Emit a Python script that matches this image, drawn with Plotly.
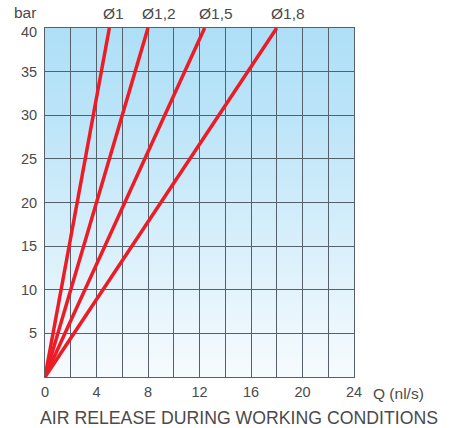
import base64
import plotly.graph_objects as go

# Data
nozzles = ["Ø1", "Ø1,2", "Ø1,5", "Ø1,8"]
q_at_40bar = [5.0, 8.0, 12.4, 18.0]   # Q (nl/s) reached at 40 bar
pressure_range = [0, 40]
x_ticks = [0, 4, 8, 12, 16, 20, 24]
y_ticks = [5, 10, 15, 20, 25, 30, 35, 40]

FONT = "Liberation Sans, Arial, sans-serif"
TXT = "#4a4a4a"
GRID = "#56606a"

fig = go.Figure()

for name, q in zip(nozzles, q_at_40bar):
    fig.add_trace(go.Scatter(
        x=[0, q], y=pressure_range, mode="lines",
        line=dict(color="#ec1c26", width=3.5), name=name, showlegend=False,
        cliponaxis=False))
    fig.add_annotation(x=q, y=40, text=name, showarrow=False,
                       xanchor="left", yanchor="bottom", xshift=-8, yshift=4,
                       font=dict(family=FONT, size=15.5, color=TXT))

# y tick labels (top one nudged down as in the original)
for v in y_ticks:
    fig.add_annotation(x=0, y=v, xref="x", yref="y", text=str(v), showarrow=False,
                       xanchor="right", yanchor="middle", xshift=-6,
                       yshift=-4 if v == max(y_ticks) else 0,
                       font=dict(family=FONT, size=14.5, color=TXT))

# background gradient as an inline SVG image
svg = ("<svg xmlns='http://www.w3.org/2000/svg' width='100' height='100' "
       "viewBox='0 0 100 100' preserveAspectRatio='none'>"
       "<defs><linearGradient id='g' x1='0' y1='0' x2='0' y2='1'>"
       "<stop offset='0' stop-color='#aedff7'/>"
       "<stop offset='0.25' stop-color='#bbe4f8'/>"
       "<stop offset='1' stop-color='#f7fbfe'/>"
       "</linearGradient></defs>"
       "<rect width='100' height='100' fill='url(#g)'/></svg>")
uri = "data:image/svg+xml;base64," + base64.b64encode(svg.encode()).decode()
fig.add_layout_image(source=uri, xref="x", yref="y", x=0, y=40, sizex=24, sizey=40,
                     sizing="stretch", layer="below", xanchor="left", yanchor="top")

fig.update_xaxes(range=[0, 24], tickvals=x_ticks,
                 showgrid=True, gridcolor=GRID, gridwidth=1.4,
                 showline=True, linecolor=GRID, linewidth=1.4, mirror=True,
                 zeroline=False, ticks="", ticklabelstandoff=1,
                 tickfont=dict(family=FONT, size=14.5, color=TXT),
                 minor=dict(dtick=2, tick0=0, showgrid=True, gridcolor=GRID, gridwidth=1.4))
fig.update_yaxes(range=[0, 40], tickvals=y_ticks, showticklabels=False,
                 showgrid=True, gridcolor=GRID, gridwidth=1.4,
                 showline=True, linecolor=GRID, linewidth=1.4, mirror=True,
                 zeroline=False, ticks="")

fig.add_annotation(x=0, y=40, xref="x", yref="y", text="bar", showarrow=False,
                   xanchor="right", yanchor="bottom", xshift=-7, yshift=5,
                   font=dict(family=FONT, size=15.5, color=TXT))
fig.add_annotation(x=24, y=0, xref="x", yref="y", text="Q (nl/s)", showarrow=False,
                   xanchor="left", yanchor="top", xshift=17, yshift=-6,
                   font=dict(family=FONT, size=15.5, color=TXT))
fig.add_annotation(x=0.5, y=0, xref="paper", yref="paper", text="AIR RELEASE DURING WORKING CONDITIONS",
                   showarrow=False, xanchor="center", yanchor="top", xshift=39, yshift=-29,
                   font=dict(family=FONT, size=17.7, color=TXT))

fig.update_layout(width=453, height=428, margin=dict(l=45, r=99, t=28, b=51),
                  paper_bgcolor="white", plot_bgcolor="white", showlegend=False)

fig.write_html("out.html", config={"displayModeBar": False},
               post_script="document.body.style.margin='0';")
